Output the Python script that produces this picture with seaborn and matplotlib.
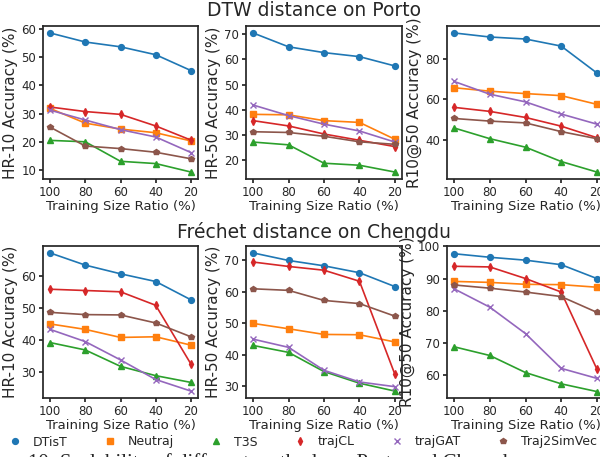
import numpy as np
import pandas as pd
import matplotlib.pyplot as plt
from matplotlib.lines import Line2D
from matplotlib.ticker import MultipleLocator
import seaborn as sns

sns.set_theme(style="ticks")
plt.rcParams['font.family'] = 'DejaVu Sans'

ratios = [100, 80, 60, 40, 20]
methods = ['DTisT', 'Neutraj', 'T3S', 'trajCL', 'trajGAT', 'Traj2SimVec']
colors = ['#1f77b4', '#ff7f0e', '#2ca02c', '#d62728', '#9467bd', '#8c564b']
marks = ['o', 's', '^', 'd', 'x', 'p']

# Porto, DTW distance
porto_hr10 = {
    'DTisT': [58.5, 55.3, 53.6, 50.8, 45.2],
    'Neutraj': [31.8, 26.6, 24.5, 23.2, 20.3],
    'T3S': [20.5, 20.0, 13.1, 12.3, 9.3],
    'trajCL': [32.3, 30.7, 29.7, 25.6, 20.6],
    'trajGAT': [31.2, 27.7, 24.3, 21.7, 16.2],
    'Traj2SimVec': [25.2, 18.5, 17.6, 16.3, 14.0],
}
porto_hr50 = {
    'DTisT': [70.5, 65.0, 62.7, 61.1, 57.4],
    'Neutraj': [38.2, 38.0, 35.7, 35.0, 28.3],
    'T3S': [27.2, 26.1, 18.8, 18.0, 15.3],
    'trajCL': [35.7, 33.6, 30.4, 27.9, 25.4],
    'trajGAT': [41.9, 37.7, 34.3, 31.6, 27.2],
    'Traj2SimVec': [31.3, 31.0, 29.5, 27.3, 26.3],
}
porto_r10_50 = {
    'DTisT': [92.8, 90.8, 89.8, 86.3, 73.0],
    'Neutraj': [65.7, 64.0, 62.8, 61.8, 57.5],
    'T3S': [45.8, 40.5, 36.3, 29.2, 24.0],
    'trajCL': [56.0, 54.0, 51.0, 46.7, 41.0],
    'trajGAT': [68.8, 62.5, 58.7, 52.7, 47.7],
    'Traj2SimVec': [50.5, 49.2, 48.3, 44.0, 40.5],
}

# Chengdu, Frechet distance
chengdu_hr10 = {
    'DTisT': [67.2, 63.4, 60.7, 58.3, 52.6],
    'Neutraj': [45.1, 43.4, 40.9, 41.1, 38.5],
    'T3S': [39.3, 37.0, 31.9, 29.0, 26.9],
    'trajCL': [55.9, 55.5, 55.1, 50.9, 32.6],
    'trajGAT': [43.4, 39.6, 33.9, 27.8, 24.2],
    'Traj2SimVec': [48.7, 48.0, 47.9, 45.4, 41.1],
}
chengdu_hr50 = {
    'DTisT': [72.4, 70.0, 68.3, 66.1, 61.7],
    'Neutraj': [50.0, 48.3, 46.5, 46.4, 44.1],
    'T3S': [43.0, 40.8, 34.7, 31.0, 28.5],
    'trajCL': [69.5, 68.1, 66.9, 63.4, 33.8],
    'trajGAT': [45.0, 42.4, 35.1, 31.4, 29.9],
    'Traj2SimVec': [61.0, 60.5, 57.3, 56.3, 52.3],
}
chengdu_r10_50 = {
    'DTisT': [97.7, 96.6, 95.7, 94.3, 90.0],
    'Neutraj': [89.1, 88.8, 88.2, 88.1, 87.3],
    'T3S': [68.8, 66.1, 60.8, 57.3, 54.9],
    'trajCL': [93.8, 93.6, 90.0, 85.8, 61.9],
    'trajGAT': [86.8, 81.1, 72.9, 62.1, 59.0],
    'Traj2SimVec': [88.0, 87.0, 85.8, 84.4, 79.5],
}

ylabels = ['HR-10 Accuracy (%)', 'HR-50 Accuracy (%)', 'R10@50 Accuracy (%)']
rows = [
    [porto_hr10, porto_hr50, porto_r10_50],
    [chengdu_hr10, chengdu_hr50, chengdu_r10_50],
]
ystep = [[10, 10, 20], [10, 10, 10]]

W, H = 600, 457
fig = plt.figure(figsize=(6, 4.57), dpi=100)

lefts = [43, 246, 447]
widths = [155, 156, 157]
tops = [26, 246]
heights = [153, 152]

for r, row in enumerate(rows):
    for c, data in enumerate(row):
        ax = fig.add_axes([lefts[c] / W, 1 - (tops[r] + heights[r]) / H,
                           widths[c] / W, heights[r] / H])
        for m, col, mk in zip(methods, colors, marks):
            df = pd.DataFrame({'ratio': ratios, 'acc': data[m]})
            sns.lineplot(data=df, x='ratio', y='acc', ax=ax, color=col,
                         marker=mk, markersize=4.2, markeredgecolor=col,
                         markeredgewidth=1.0, linewidth=1.2)
        ax.set_xticks(ratios)
        ax.invert_xaxis()
        ax.yaxis.set_major_locator(MultipleLocator(ystep[r][c]))
        if r == 1 and c == 2:
            ax.set_ylim(52.9, 100.1)
        ax.set_xlabel('Training Size Ratio (%)', fontsize=9.5, labelpad=1)
        ax.set_ylabel(ylabels[c], fontsize=11, labelpad=2)
        ax.tick_params(labelsize=8.5, length=3, pad=2)

fig.text(314 / W, 1 - 11 / H, 'DTW distance on Porto', ha='center',
         va='center', fontsize=13.5)
fig.text(314 / W, 1 - 232 / H, 'Fréchet distance on Chengdu', ha='center',
         va='center', fontsize=13.5)

handles = [Line2D([], [], linestyle='none', marker=mk, color=col,
                  markeredgecolor=col, markersize=4.2)
           for col, mk in zip(colors, marks)]
fig.legend(handles, methods, ncol=6, loc='center',
           bbox_to_anchor=(303 / W, 1 - 442 / H), frameon=False,
           fontsize=9, handlelength=1.0, handletextpad=0.9,
           columnspacing=2.9, borderpad=0)

fig.text(28 / W, 1 - 453 / H,
         '10: Scalability of different methods on Porto and Chengdu.',
         ha='left', va='top', fontsize=15, family='Liberation Serif')

fig.savefig('out.png', dpi=100)
